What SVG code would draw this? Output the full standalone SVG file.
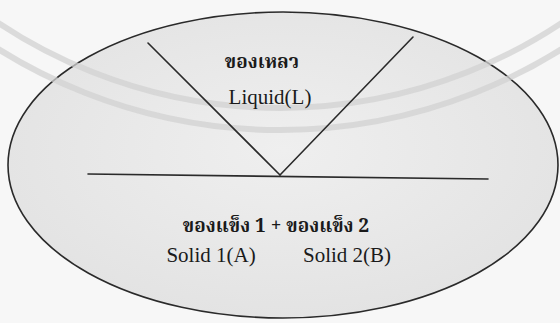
<svg xmlns="http://www.w3.org/2000/svg" width="560" height="323" viewBox="0 0 560 323">
<style>
.ln{stroke:#2a2a2a;stroke-width:1.6;fill:none;stroke-linecap:round}
.wm{stroke:#d2d2d2;stroke-width:6;fill:none;opacity:0.75}
.th{font-family:"Noto Serif Thai","Noto Sans Thai","Liberation Serif",serif;font-size:19px;fill:#1a1a1a;font-weight:bold;text-anchor:middle}
.en{font-family:"Liberation Serif",serif;font-size:21px;fill:#1a1a1a;text-anchor:middle}
</style>
<defs>
<radialGradient id="g" cx="0.5" cy="0.45" r="0.6">
<stop offset="0" stop-color="#efefef"/>
<stop offset="1" stop-color="#e2e2e2"/>
</radialGradient>
</defs>
<rect width="560" height="323" fill="#f7f7f7"/>
<g id="ellipse">
<ellipse cx="283" cy="165" rx="275" ry="153" fill="url(#g)" stroke="#2a2a2a" stroke-width="1.6"/>
</g>
<g id="watermark">
<circle cx="280" cy="-400" r="508" class="wm"/>
<circle cx="280" cy="-400" r="530" class="wm"/>
</g>
<g id="connectors">
<line class="ln" x1="148" y1="43" x2="280" y2="175"/>
<line class="ln" x1="413" y1="37" x2="280" y2="175"/>
<line class="ln" x1="88" y1="174" x2="488" y2="179"/>
</g>
<g id="liquid">
<text class="th" x="262" y="68">ของเหลว</text>
<text class="en" x="270" y="104">Liquid(L)</text>
</g>
<g id="solid">
<text class="th" x="276" y="232">ของแข็ง 1  +  ของแข็ง 2</text>
<text class="en" x="211" y="262">Solid 1(A)</text>
<text class="en" x="347" y="262">Solid 2(B)</text>
</g>
</svg>
